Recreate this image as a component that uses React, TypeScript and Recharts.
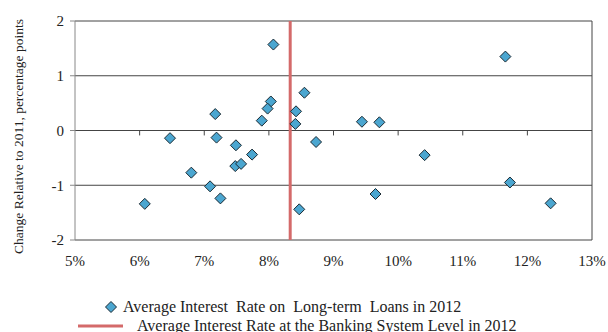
import React from "react"
import {
  CartesianGrid,
  Label,
  ReferenceLine,
  Scatter,
  ScatterChart,
  XAxis,
  YAxis,
} from "recharts"

// average long-term loan rate per bank in 2012, % (x) and change vs 2011, p.p. (y)
const loanRate2012 = [
  8.07, 8.55, 7.17, 8.42, 8.41, 8.03, 7.98, 7.89, 6.47, 7.19, 7.49, 7.74, 7.48, 7.57,
  6.8, 7.09, 7.25, 6.08, 8.47, 11.66, 9.44, 9.71, 8.73, 10.41, 11.73, 9.65, 12.36,
]
const changeVs2011 = [
  1.57, 0.69, 0.3, 0.35, 0.12, 0.53, 0.4, 0.18, -0.14, -0.13, -0.27, -0.44, -0.65, -0.61,
  -0.77, -1.02, -1.24, -1.34, -1.44, 1.35, 0.16, 0.15, -0.21, -0.45, -0.95, -1.16, -1.33,
]
const systemRate2012 = 8.33

const xTicks = [5, 6, 7, 8, 9, 10, 11, 12, 13]
const yTicks = [-2, -1, 0, 1, 2]

const points = loanRate2012.map((x, i) => ({ x, y: changeVs2011[i] }))

const FONT = "Liberation Serif, Times New Roman, serif"
const DIAMOND_FILL = "#4ba6d0"
const RED = "#d46a6a"

const tickStyle = { fontFamily: FONT, fontSize: 15, fill: "#222" }

const Diamond = (props: any) => {
  const { cx, cy } = props
  const r = 5.5
  return (
    <polygon
      points={`${cx},${cy - r} ${cx + r},${cy} ${cx},${cy + r} ${cx - r},${cy}`}
      fill={DIAMOND_FILL}
      stroke="#1a2a33"
      strokeWidth={1}
    />
  )
}

const YTitle = (props: any) => {
  const vb = props.viewBox
  const cx = 18
  const cy = vb.y + vb.height / 2 + 6
  return (
    <text
      x={cx}
      y={cy}
      transform={`rotate(-90 ${cx} ${cy})`}
      textAnchor="middle"
      dominantBaseline="central"
      fontFamily={FONT}
      fontSize={13.5}
      fill="#222"
    >
      Change Relative to 2011, percentage points
    </text>
  )
}

export default function App() {
  return (
    <div
      style={{
        position: "absolute",
        left: 0,
        top: 0,
        width: 608,
        height: 332,
        background: "#fff",
        fontFamily: FONT,
        overflow: "hidden",
      }}
    >
      <ScatterChart width={608} height={332} margin={{ top: 21, right: 16, bottom: 0, left: 0 }}>
        <CartesianGrid horizontal vertical={false} stroke="#444" strokeOpacity={1} />
        <XAxis
          type="number"
          dataKey="x"
          domain={[5, 13]}
          ticks={xTicks}
          tickFormatter={(v) => `${v}%`}
          axisLine={false}
          tickLine={false}
          tickMargin={9}
          tick={tickStyle}
          height={92}
        />
        <YAxis
          type="number"
          dataKey="y"
          domain={[-2, 2]}
          ticks={yTicks}
          width={75}
          axisLine={{ stroke: "#888" }}
          tickLine={{ stroke: "#888" }}
          tickSize={5}
          tickMargin={6}
          tick={tickStyle}
        >
          <Label content={<YTitle />} />
        </YAxis>
        {/* right frame */}
        <ReferenceLine x={13} stroke="#444" />
        {/* zero line with downward tick marks */}
        <ReferenceLine y={0} stroke="#444" />
        {xTicks.slice(1, -1).map((t) => (
          <ReferenceLine
            key={t}
            segment={[
              { x: t, y: 0 },
              { x: t, y: -0.09 },
            ]}
            stroke="#444"
          />
        ))}
        <ReferenceLine x={systemRate2012} stroke={RED} strokeWidth={3} />
        <Scatter data={points} shape={<Diamond />} isAnimationActive={false} />
      </ScatterChart>
      <div
        style={{
          position: "absolute",
          left: 0,
          top: 296,
          width: 608,
          fontSize: 16,
          color: "#222",
          whiteSpace: "pre",
          lineHeight: "20px",
        }}
      >
        <div style={{ position: "absolute", left: 104, top: 0, display: "flex", alignItems: "center", height: 22 }}>
          <svg width={14} height={14} style={{ marginRight: 5 }}>
            <polygon points="7,1.5 12.5,7 7,12.5 1.5,7" fill={DIAMOND_FILL} stroke="#1a2a33" />
          </svg>
          <span>Average Interest  Rate on  Long-term  Loans in 2012</span>
        </div>
        <div style={{ position: "absolute", left: 78, top: 19, display: "flex", alignItems: "center", height: 22 }}>
          <svg width={45} height={6} style={{ marginRight: 14 }}>
            <line x1={0} y1={3} x2={45} y2={3} stroke={RED} strokeWidth={3} />
          </svg>
          <span>Average Interest Rate at the Banking System Level in 2012</span>
        </div>
      </div>
    </div>
  )
}
